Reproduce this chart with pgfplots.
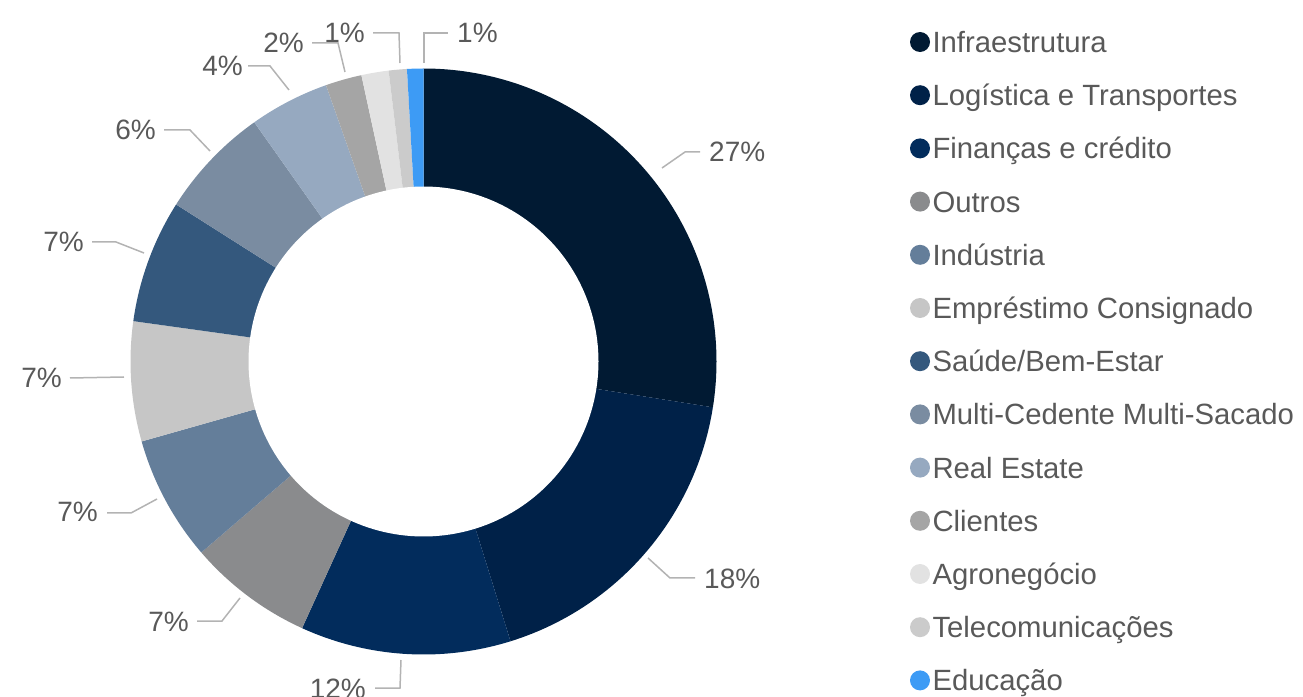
\documentclass[border=0pt]{standalone}
\usepackage{pgfplots}
\usepackage{pgfplotstable}
\pgfplotsset{compat=1.18}
\usepackage{fontspec}
\setmainfont{Liberation Sans}
\definecolor{c1}{HTML}{011A33}
\definecolor{c2}{HTML}{002148}
\definecolor{c3}{HTML}{022C5C}
\definecolor{c4}{HTML}{8A8B8D}
\definecolor{c5}{HTML}{647E9A}
\definecolor{c6}{HTML}{C6C6C6}
\definecolor{c7}{HTML}{34587D}
\definecolor{c8}{HTML}{7A8CA1}
\definecolor{c9}{HTML}{96A9C0}
\definecolor{c10}{HTML}{A5A5A5}
\definecolor{c11}{HTML}{E2E2E2}
\definecolor{c12}{HTML}{CBCBCB}
\definecolor{c13}{HTML}{3D9BF5}
\definecolor{txt}{HTML}{595959}
\definecolor{lead}{HTML}{B3B3B3}
\newcommand\legfont{\fontsize{29.3}{34}\selectfont}
\newcommand\pctfont{\fontsize{28}{33}\selectfont}
\pgfplotstableread[col sep=comma]{
name,value,color
Infraestrutura,27.5,c1
Logística e Transportes,17.7,c2
Finanças e crédito,11.6,c3
Outros,6.9,c4
Indústria,6.9,c5
Empréstimo Consignado,6.6,c6
Saúde/Bem-Estar,6.8,c7
Multi-Cedente Multi-Sacado,6.2,c8
Real Estate,4.4,c9
Clientes,2.0,c10
Agronegócio,1.5,c11
Telecomunicações,1.0,c12
Educação,0.9,c13
}\datatable
\begin{document}
\begin{tikzpicture}
\begin{axis}[
  width=1303pt, height=696pt, scale only axis,
  xmin=0, xmax=1303, ymin=0, ymax=696,
  hide axis, clip=false,
  legend style={at={(axis cs:910,667)}, anchor=north west, draw=none, fill=none,
    inner sep=0pt, outer sep=0pt, font=\legfont, text=txt,
    row sep=27.2pt, column sep=2.5pt,
    nodes={inner sep=0pt, text height=23.4pt, text depth=2.6pt}},
  legend cell align=left,
  legend image code/.code={\fill[#1] (0pt,0pt) circle (10pt);},
]
\def\cum{0}
\pgfplotsinvokeforeach{0,...,12}{%
  \pgfplotstablegetelem{#1}{value}\of\datatable \let\val\pgfplotsretval
  \pgfplotstablegetelem{#1}{color}\of\datatable \let\col\pgfplotsretval
  \pgfplotstablegetelem{#1}{name}\of\datatable \let\nm\pgfplotsretval
  \pgfmathsetmacro\aone{90-3.6*\cum}%
  \pgfmathsetmacro\cum{\cum+\val}%
  \pgfmathsetmacro\atwo{90-3.6*\cum}%
  \edef\doplot{\noexpand\addplot[fill=\col, draw=none, domain=\atwo:\aone, samples=100]
    ({423.5+293*cos(x)},{334.5+293*sin(x)}) -- (axis cs:423.5,334.5) -- cycle;
    \noexpand\addlegendentry{\nm}}%
  \doplot
}
\addplot[fill=white, draw=none, domain=0:360, samples=200, forget plot]
  ({423.5+175*cos(x)},{334.5+175*sin(x)}) -- cycle;
% leader lines
\begin{scope}[draw=lead, line width=1.5pt]
\draw (axis cs:662,528) -- (axis cs:685,544) -- (axis cs:700,544);
\draw (axis cs:648,138) -- (axis cs:670,118) -- (axis cs:695,118);
\draw (axis cs:401,36) -- (axis cs:400,8) -- (axis cs:375,8);
\draw (axis cs:240,98) -- (axis cs:222,75) -- (axis cs:197,75);
\draw (axis cs:157,197) -- (axis cs:131,183) -- (axis cs:107,183);
\draw (axis cs:124,319) -- (axis cs:70,318);
\draw (axis cs:144,443) -- (axis cs:116,454) -- (axis cs:92,454);
\draw (axis cs:210,545) -- (axis cs:190,566) -- (axis cs:164,566);
\draw (axis cs:289,606) -- (axis cs:270,630) -- (axis cs:248,630);
\draw (axis cs:345,624) -- (axis cs:338,653) -- (axis cs:312,653);
\draw (axis cs:400,633) -- (axis cs:399,663) -- (axis cs:373,663);
\draw (axis cs:424,633) -- (axis cs:424,663) -- (axis cs:448,663);
\end{scope}
\begin{scope}[every node/.style={font=\pctfont, text=txt, inner sep=0pt}]
\node[anchor=base west] at (axis cs:709,534) {27\%};
\node[anchor=base west] at (axis cs:704,107) {18\%};
\node[anchor=base east] at (axis cs:366,-2) {12\%};
\node[anchor=base east] at (axis cs:189,65) {7\%};
\node[anchor=base east] at (axis cs:98,174) {7\%};
\node[anchor=base east] at (axis cs:62,308) {7\%};
\node[anchor=base east] at (axis cs:84,444) {7\%};
\node[anchor=base east] at (axis cs:156,556) {6\%};
\node[anchor=base east] at (axis cs:243,620) {4\%};
\node[anchor=base east] at (axis cs:304,643) {2\%};
\node[anchor=base east] at (axis cs:365,653) {1\%};
\node[anchor=base west] at (axis cs:457,653) {1\%};
\end{scope}
\end{axis}
\pgfresetboundingbox
\path (0,0) rectangle (1303pt,696pt);
\end{tikzpicture}
\end{document}
